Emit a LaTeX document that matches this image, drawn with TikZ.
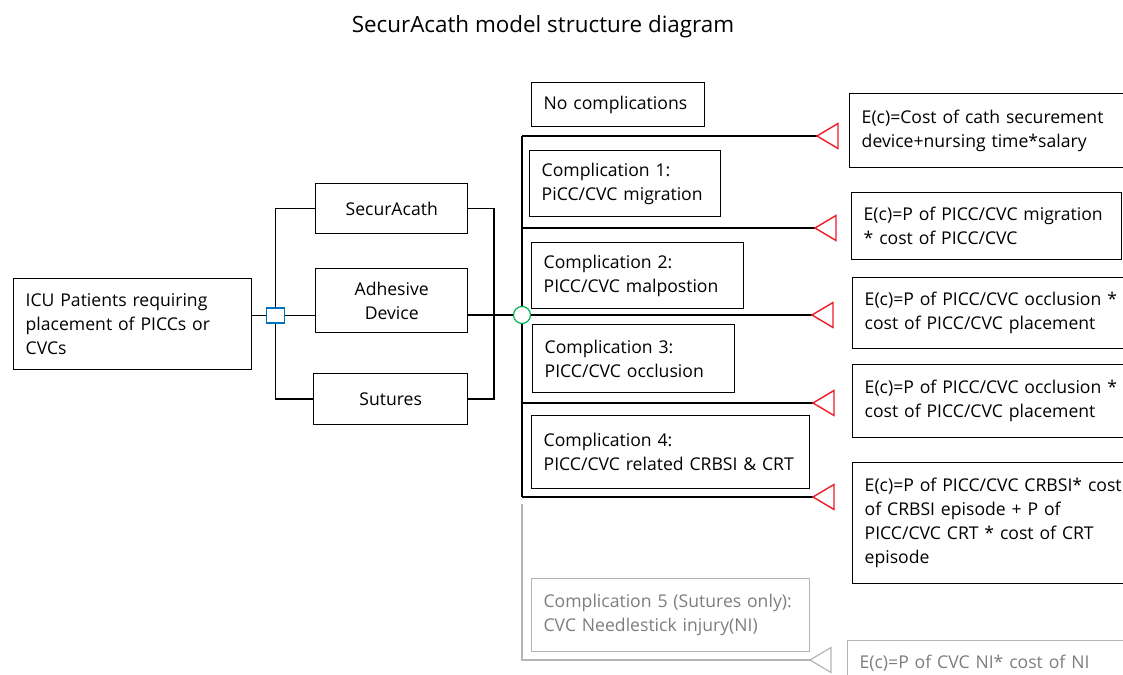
\documentclass[tikz,border=0pt]{standalone}
\usepackage{fontspec}
\setmainfont{Open Sans}
\usetikzlibrary{positioning}
\definecolor{sqblue}{RGB}{0,112,192}
\definecolor{chgreen}{RGB}{0,176,80}
\definecolor{trired}{RGB}{237,28,36}
\definecolor{linegray}{RGB}{180,180,180}
\definecolor{textgray}{RGB}{125,125,125}

\begin{document}
\begin{tikzpicture}[x=1pt, y=1pt, line width=1.4pt,
 box/.style={draw, anchor=north west, align=left, inner xsep=12pt, inner ysep=0pt,
  font=\fontsize{17.6}{24}\selectfont},
 midbox/.style={box, align=center},
 graybox/.style={box, draw=linegray, text=textgray, line width=1.2pt},
 endtri/.style={draw=trired, line join=miter},
 graytri/.style={draw=linegray, line width=1.2pt, line join=miter}]
 \useasboundingbox (0,0) rectangle (1123,674);
 \clip (0,0) rectangle (1123,674);
 \node (title) at (543,647) {\fontsize{22.4}{26}\selectfont SecurAcath model structure diagram};

 \node [box, text width=214pt, minimum height=91pt] (icu) at (13,396)
  {ICU Patients requiring\\placement of PICCs or\\CVCs};
 \node [draw=sqblue, fill=white, line width=1.2pt, inner sep=0pt,
  minimum width=18pt, minimum height=15pt] (sq) at (275.5,358.5) {};
 \node [midbox, text width=128pt, minimum height=50pt] (secur) at (315,491) {SecurAcath};
 \node [midbox, text width=128pt, minimum height=64pt] (adh) at (315,406) {Adhesive\\Device};
 \node [midbox, text width=130pt, minimum height=51pt] (sut) at (313,301) {Sutures};
 \coordinate (jr) at (494,359);
 \node [circle, draw=chgreen, fill=white, line width=1.2pt, inner sep=0pt,
  minimum size=17pt] (ch) at (522,359) {};

 \node [box, text width=149pt, minimum height=44pt] (nc) at (531,592) {No complications};
 \node [box, text width=167pt, minimum height=66pt] (c1) at (529,524)
  {Complication 1:\\PiCC/CVC migration};
 \node [box, text width=188pt, minimum height=66pt] (c2) at (531,432)
  {Complication 2:\\PICC/CVC malpostion};
 \node [box, text width=178pt, minimum height=68pt] (c3) at (532,350)
  {Complication 3:\\PICC/CVC occlusion};
 \node [box, text width=254pt, minimum height=73pt] (c4) at (531,259)
  {Complication 4:\\PICC/CVC related CRBSI \& CRT};
 \node [graybox, text width=254pt, minimum height=73pt] (c5) at (531,96)
  {Complication 5 (Sutures only):\\CVC Needlestick injury(NI)};

 \node [box, text width=280pt, minimum height=74pt] (r0) at (849,581)
  {E(c)=Cost of cath securement\\device+nursing time*salary};
 \node [box, text width=246pt, minimum height=67pt] (r1) at (851,482)
  {E(c)=P of PICC/CVC migration\\{*} cost of PICC/CVC};
 \node [box, text width=280pt, minimum height=71pt] (r2) at (852,397)
  {E(c)=P of PICC/CVC occlusion *\\cost of PICC/CVC placement};
 \node [box, text width=280pt, minimum height=73pt] (r3) at (852,310)
  {E(c)=P of PICC/CVC occlusion *\\cost of PICC/CVC placement};
 \node [box, text width=280pt, minimum height=121pt] (r4) at (852,212)
  {E(c)=P of PICC/CVC CRBSI* cost\\of CRBSI episode + P of\\PICC/CVC CRT * cost of CRT\\episode};
 \node [graybox, text width=280pt, minimum height=45pt] (r5) at (847,34)
  {E(c)=P of CVC NI* cost of NI};

 \draw (icu.east |- sq) -- (sq.west);
 \draw (secur.west) -| (sq.north);
 \draw (sut.west) -| (sq.south);
 \draw (sq.east) -- (adh.west |- sq);
 \draw (secur.east) -| (jr |- sut.east) -- (sut.east);
 \draw (adh.east |- ch) -- (ch.west);

 \coordinate (k0) at (522,538);
 \coordinate (k1) at (522,446);
 \coordinate (k3) at (522,271);
 \coordinate (k4) at (522,177);
 \coordinate (k5) at (522,170);
 \coordinate (k6) at (522,14);
 \coordinate (t0) at (817,538);
 \coordinate (t1) at (815,446);
 \coordinate (t2) at (812,359);
 \coordinate (t3) at (813,271);
 \coordinate (t4) at (813,177);
 \coordinate (t5) at (810,14);
 \draw (k0) -- (ch.north);
 \draw (ch.south) -- (k4);
 \draw (ch.east) -- (t2);
 \foreach \n in {0,1,3,4}
  \draw (k\n) -- (t\n);
 \foreach \n in {0,...,4}
  \draw [endtri] (t\n) -- ++(21,12.5) -- ++(0,-25) -- cycle;
 \draw [linegray, line width=1.2pt] (k5) -- (k6) -- (t5);
 \draw [graytri] (t5) -- ++(21,12.5) -- ++(0,-25) -- cycle;
\end{tikzpicture}
\end{document}
